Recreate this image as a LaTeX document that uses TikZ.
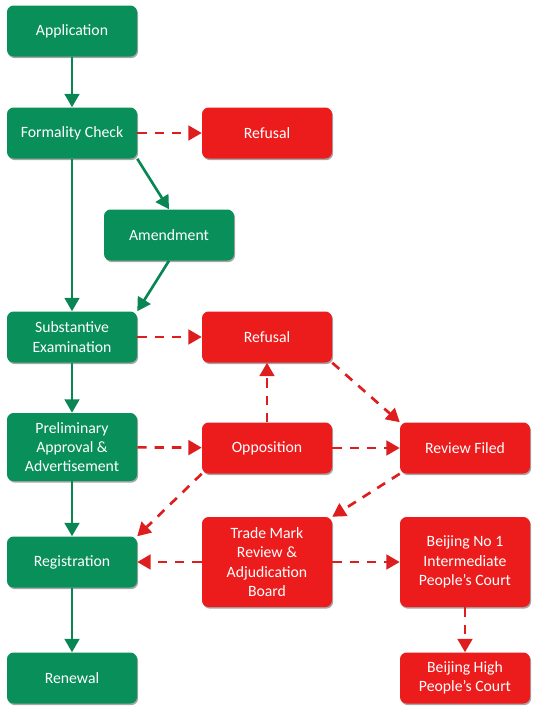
\documentclass[tikz,border=0pt]{standalone}
\usepackage{fontspec}
\setmainfont{Carlito}
\usetikzlibrary{arrows.meta,shadows}
\definecolor{boxgreen}{RGB}{9,143,89}
\definecolor{linegreen}{RGB}{10,134,84}
\definecolor{boxred}{RGB}{236,28,28}
\definecolor{linered}{RGB}{222,30,30}
\begin{document}
\begin{tikzpicture}[x=0.75pt,y=-0.75pt,
    box/.style={rounded corners=5pt, text=white, align=center,
      minimum width=97.5pt, minimum height=38.25pt, inner sep=2pt,
      font=\fontsize{11.8}{14.5}\selectfont,
      drop shadow={shadow xshift=0.8pt, shadow yshift=-1.2pt, fill=black, opacity=0.35}},
    greenbox/.style={box, fill=boxgreen},
    redbox/.style={box, fill=boxred},
    greenarrow/.style={draw=linegreen, line width=2pt, -{Triangle[length=10pt,width=11pt]}},
    redarrow/.style={draw=linered, line width=2pt, dash pattern=on 7pt off 6pt,
      -{Triangle[length=10pt,width=11pt]}}]
  \useasboundingbox (0,0) rectangle (537,715);

  % Main path
  \node[greenbox] (app) at (72,31) {Application};
  \node[greenbox] (formal) at (72,133) {Formality Check};
  \node[greenbox] (amend) at (169,235) {Amendment};
  \node[greenbox] (subst) at (72,337) {Substantive\\Examination};
  \node[greenbox, minimum height=51pt] (prelim) at (72,447) {Preliminary\\Approval \&\\Advertisement};
  \node[greenbox] (regist) at (72,562) {Registration};
  \node[greenbox] (renew) at (72,678) {Renewal};

  % Refusals and appeals
  \node[redbox] (refuse1) at (267,133) {Refusal};
  \node[redbox] (refuse2) at (267,337) {Refusal};
  \node[redbox] (oppos) at (267,448) {Opposition};
  \node[redbox] (review) at (465,448) {Review Filed};
  \node[redbox, minimum height=67.5pt] (board) at (267,562) {Trade Mark\\Review \&\\Adjudication\\Board};
  \node[redbox, minimum height=67.5pt] (court1) at (465,562) {Beijing No 1\\Intermediate\\People’s Court};
  \node[redbox] (court2) at (465,678) {Beijing High\\People’s Court};

  \draw[greenarrow] (app) -- (formal);
  \draw[greenarrow] (formal) -- (subst);
  \draw[greenarrow] (formal.south east) -- (amend.north);
  \draw[greenarrow] (amend.south) -- (subst.north east);
  \draw[greenarrow] (subst) -- (prelim);
  \draw[greenarrow] (prelim) -- (regist);
  \draw[greenarrow] (regist) -- (renew);

  \draw[redarrow] (formal) -- (refuse1);
  \draw[redarrow] (subst) -- (refuse2);
  \draw[redarrow] (prelim) -- (oppos);
  \draw[redarrow] (oppos) -- (refuse2);
  \draw[redarrow] (oppos) -- (review);
  \draw[redarrow] (refuse2.south east) -- (review.north west);
  \draw[redarrow] (oppos.south west) -- (regist.north east);
  \draw[redarrow] (review.south west) -- (board.north east);
  \draw[redarrow] (board) -- (regist);
  \draw[redarrow] (board) -- (court1);
  \draw[redarrow] (court1) -- (court2);
\end{tikzpicture}
\end{document}
